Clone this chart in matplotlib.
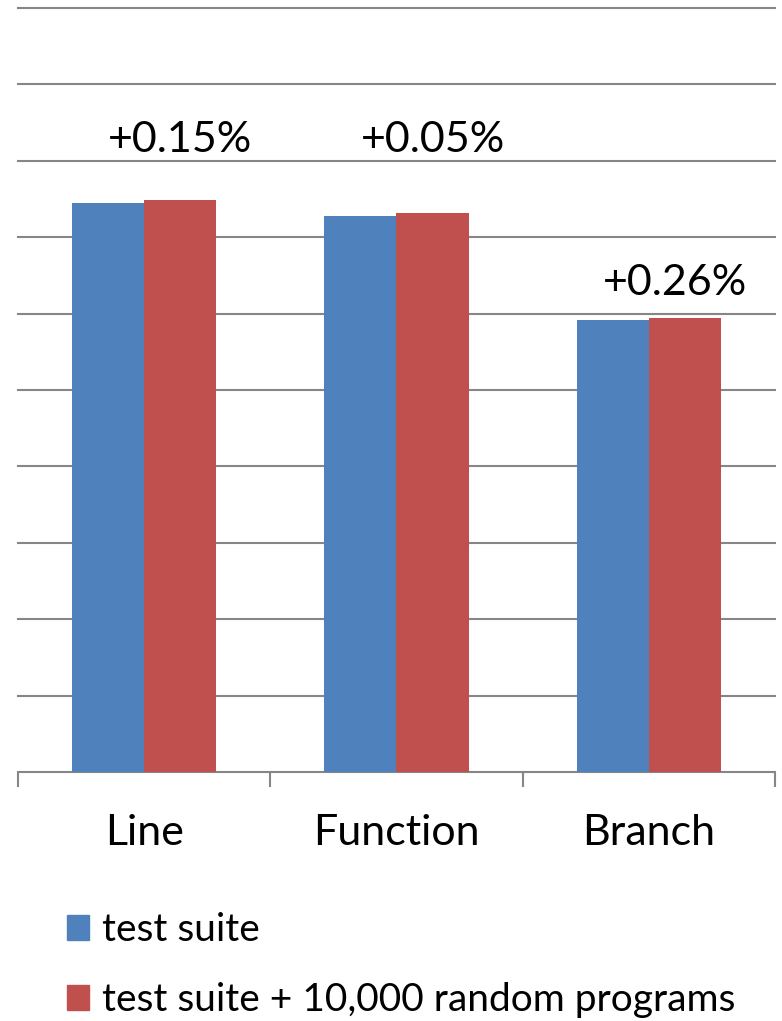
import matplotlib.pyplot as plt
from matplotlib.patches import Patch

plt.rcParams['font.family'] = ['Lato', 'DejaVu Sans']

categories = ["Line", "Function", "Branch"]
suite = [74.5, 72.8, 59.1]
suite_random = [74.9, 73.2, 59.4]
gains = ["+0.15%", "+0.05%", "+0.26%"]
series_names = ["test suite", "test suite + 10,000 random programs"]

blue = "#4f81bd"
red = "#c0504d"
grey = "#868686"

fig = plt.figure(figsize=(7.82, 10.21), dpi=100)
ax = fig.add_axes([18 / 782, 1 - 772 / 1021, (775 - 18) / 782, (772 - 8) / 1021])

w = 0.286
x = range(len(categories))
ax.bar([i - w / 2 for i in x], suite, width=w, color=blue, zorder=3)
ax.bar([i + w / 2 for i in x], suite_random, width=w, color=red, zorder=3)

# gain labels sit above the red bars
label_y = [82.7, 82.7, 64.0]
for i, (g, ly) in enumerate(zip(gains, label_y)):
    ax.text(i + w / 2 - (0.04 if i == 2 else 0), ly, g, ha="center", va="center",
            fontsize=31, color="black")

ax.set_xlim(-0.5, 2.5)
ax.set_ylim(0, 100)
ax.set_yticks(range(10, 101, 10))
ax.yaxis.grid(True, color=grey, linewidth=1.5, zorder=0)
for t in ax.get_ygridlines():
    t.set_clip_on(False)
ax.tick_params(axis="y", left=False, labelleft=False)

ax.set_xticks(list(x))
ax.set_xticklabels(categories, fontsize=31)
ax.tick_params(axis="x", which="major", length=0, pad=30)
ax.set_xticks([-0.5, 0.5, 1.5, 2.5], minor=True)
ax.tick_params(axis="x", which="minor", length=11, width=1.5, color=grey, direction="out")

for s in ["top", "right", "left"]:
    ax.spines[s].set_visible(False)
ax.spines["bottom"].set_color(grey)
ax.spines["bottom"].set_linewidth(1.5)

handles = [Patch(color=blue), Patch(color=red)]
fig.legend(handles, series_names, loc="upper left", bbox_to_anchor=(67 / 782, 1 - 912 / 1021),
           frameon=False, fontsize=28, handlelength=0.57, handleheight=0.62,
           handletextpad=0.33, labelspacing=0.88, borderpad=0, borderaxespad=0)

fig.savefig("out.png", dpi=100)
